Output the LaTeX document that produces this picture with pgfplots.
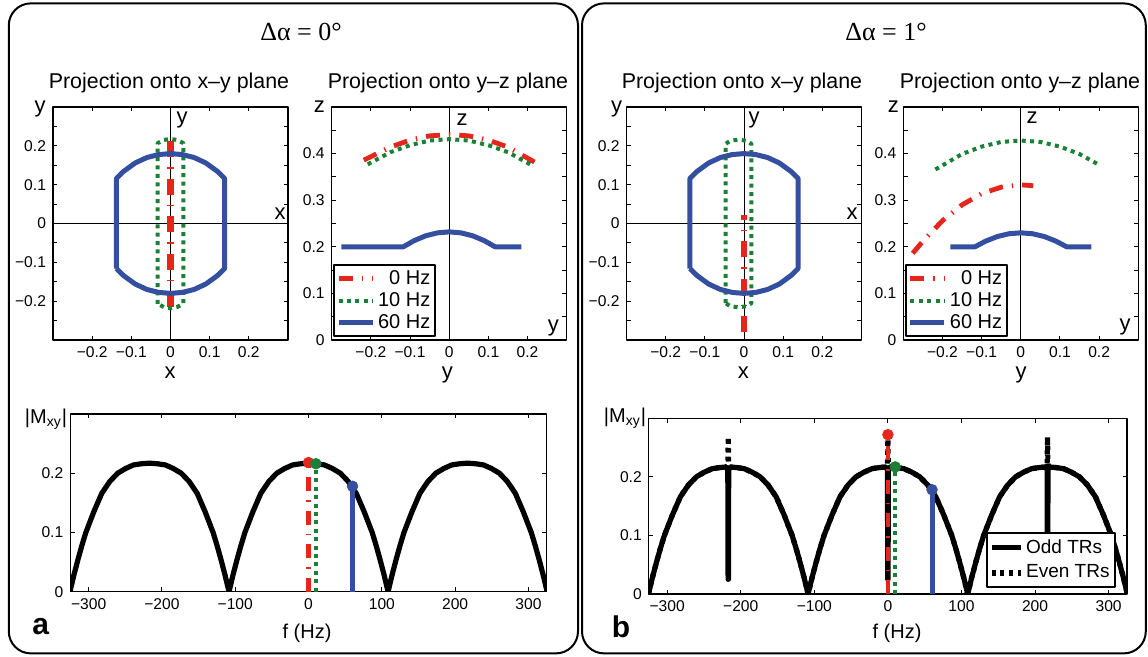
\documentclass[border=0pt]{standalone}
\usepackage{pgfplots}
\usepackage{pgfplotstable}
\pgfplotsset{compat=1.18}
\usepackage{fontspec}
\setmainfont{Liberation Sans}
\newfontfamily\seriffont{Liberation Serif}

\definecolor{mred}{RGB}{228,38,28}
\definecolor{mgreen}{RGB}{26,128,54}
\definecolor{mblue}{RGB}{52,78,160}

\tikzset{
  redxy/.style={mred, line width=3.2pt, dash pattern=on 8pt off 5pt on 0.7pt off 5pt},
  redl/.style={mred, line width=2.4pt, dash pattern=on 7pt off 4.5pt on 0.7pt off 4.5pt},
  greenl/.style={mgreen, line width=2pt, dash pattern=on 2pt off 2.2pt},
  bluel/.style={mblue, line width=2.5pt},
  oddl/.style={black, line width=2.6pt},
  evenl/.style={black, line width=2.6pt, dash pattern=on 2pt off 2.4pt},
  lab/.style={font=\fontsize{11}{13}\selectfont, inner sep=0pt},
  ttl/.style={font=\fontsize{10.7}{12}\selectfont, inner sep=0pt},
}

\pgfplotsset{
  mat/.style={scale only axis, anchor=south west,
    axis line style={line width=0.6pt},
    tick align=inside, major tick length=2.2pt, minor tick length=2.2pt,
    tick style={black, line width=0.5pt},
    tick label style={font=\fontsize{7.8}{9}\selectfont},
    line join=round},
  proj/.style={mat, width=117.5pt, height=116.5pt, xmin=-0.3, xmax=0.3,
    xtick={-0.2,-0.1,0,0.1,0.2}, xticklabels={−0.2,−0.1,0,0.1,0.2}},
  xyax/.style={proj, ymin=-0.3, ymax=0.3,
    ytick={-0.2,-0.1,0,0.1,0.2}, yticklabels={−0.2,−0.1,0,0.1,0.2},
    minor ytick={-0.25,-0.15,-0.05,0.05,0.15,0.25}},
  yzax/.style={proj, ymin=0, ymax=0.5,
    ytick={0,0.1,0.2,0.3,0.4}, yticklabels={0,0.1,0.2,0.3,0.4},
    minor ytick={0.05,0.15,0.25,0.35,0.45}},
  fax/.style={mat, xmin=-325, xmax=325, ymin=0, ymax=0.3,
    xtick={-300,-200,-100,0,100,200,300},
    xticklabels={−300,−200,−100,0,100,200,300},
    ytick={0,0.1,0.2}, yticklabels={0,0.1,0.2}},
}

% |Mxy| against off-resonance, one row per point
\pgfplotstableread{
f m
-325.5 0
-320.1 0.028
-314.6 0.054
-309.2 0.078
-303.8 0.100
-292.9 0.135
-282.1 0.166
-271.2 0.186
-260.4 0.200
-249.5 0.208
-238.7 0.214
-227.8 0.216
-217.0 0.217
-206.2 0.216
-195.3 0.214
-184.5 0.208
-173.6 0.200
-162.8 0.186
-151.9 0.166
-141.1 0.135
-130.2 0.100
-124.8 0.078
-119.4 0.054
-113.9 0.028
-108.5 0
-103.1 0.028
-97.6 0.054
-92.2 0.078
-86.8 0.100
-75.9 0.135
-65.1 0.166
-54.2 0.186
-43.4 0.200
-32.5 0.208
-21.7 0.214
-10.8 0.216
0 0.217
10.8 0.216
21.7 0.214
32.5 0.208
43.4 0.200
54.2 0.186
65.1 0.166
75.9 0.135
86.8 0.100
92.2 0.078
97.6 0.054
103.1 0.028
108.5 0
113.9 0.028
119.4 0.054
124.8 0.078
130.2 0.100
141.1 0.135
151.9 0.166
162.8 0.186
173.6 0.200
184.5 0.208
195.3 0.214
206.2 0.216
217.0 0.217
227.8 0.216
238.7 0.214
249.5 0.208
260.4 0.200
271.2 0.186
282.1 0.166
292.9 0.135
303.8 0.100
309.2 0.078
314.6 0.054
320.1 0.028
325.5 0
}\mxya

\pgfplotstableread{
f m
-325.5 0
-320.1 0.028
-314.6 0.054
-309.2 0.078
-303.8 0.100
-292.9 0.135
-282.1 0.166
-271.2 0.186
-260.4 0.200
-249.5 0.208
-238.7 0.214
-227.8 0.216
-219.5 0.2168
-217.6 0.212
-217.2 0.025
-216.8 0.025
-216.4 0.212
-214.5 0.2168
-206.2 0.216
-195.3 0.214
-184.5 0.208
-173.6 0.200
-162.8 0.186
-151.9 0.166
-141.1 0.135
-130.2 0.100
-124.8 0.078
-119.4 0.054
-113.9 0.028
-108.5 0
-103.1 0.028
-97.6 0.054
-92.2 0.078
-86.8 0.100
-75.9 0.135
-65.1 0.166
-54.2 0.186
-43.4 0.200
-32.5 0.208
-21.7 0.214
-10.8 0.216
-2.5 0.2168
-0.6 0.212
-0.2 0.025
0.2 0.025
0.6 0.212
2.5 0.2168
10.8 0.216
21.7 0.214
32.5 0.208
43.4 0.200
54.2 0.186
65.1 0.166
75.9 0.135
86.8 0.100
92.2 0.078
97.6 0.054
103.1 0.028
108.5 0
113.9 0.028
119.4 0.054
124.8 0.078
130.2 0.100
141.1 0.135
151.9 0.166
162.8 0.186
173.6 0.200
184.5 0.208
195.3 0.214
206.2 0.216
214.5 0.2168
216.4 0.212
216.8 0.025
217.2 0.025
217.6 0.212
219.5 0.2168
227.8 0.216
238.7 0.214
249.5 0.208
260.4 0.200
271.2 0.186
282.1 0.166
292.9 0.135
303.8 0.100
309.2 0.078
314.6 0.054
320.1 0.028
325.5 0
}\mxyodd

\pgfplotstableread{
f m
-325.5 0
-320.1 0.028
-314.6 0.054
-309.2 0.078
-303.8 0.100
-292.9 0.135
-282.1 0.166
-271.2 0.186
-260.4 0.200
-249.5 0.208
-238.7 0.214
-227.8 0.216
-219.5 0.2168
-217.6 0.221
-217.0 0.268
-216.4 0.221
-214.5 0.2168
-206.2 0.216
-195.3 0.214
-184.5 0.208
-173.6 0.200
-162.8 0.186
-151.9 0.166
-141.1 0.135
-130.2 0.100
-124.8 0.078
-119.4 0.054
-113.9 0.028
-108.5 0
-103.1 0.028
-97.6 0.054
-92.2 0.078
-86.8 0.100
-75.9 0.135
-65.1 0.166
-54.2 0.186
-43.4 0.200
-32.5 0.208
-21.7 0.214
-10.8 0.216
-2.5 0.2168
-0.6 0.221
0 0.265
0.6 0.221
2.5 0.2168
10.8 0.216
21.7 0.214
32.5 0.208
43.4 0.200
54.2 0.186
65.1 0.166
75.9 0.135
86.8 0.100
92.2 0.078
97.6 0.054
103.1 0.028
108.5 0
113.9 0.028
119.4 0.054
124.8 0.078
130.2 0.100
141.1 0.135
151.9 0.166
162.8 0.186
173.6 0.200
184.5 0.208
195.3 0.214
206.2 0.216
214.5 0.2168
216.4 0.221
217.0 0.268
217.6 0.221
219.5 0.2168
227.8 0.216
238.7 0.214
249.5 0.208
260.4 0.200
271.2 0.186
282.1 0.166
292.9 0.135
303.8 0.100
309.2 0.078
314.6 0.054
320.1 0.028
325.5 0
}\mxyeven

\begin{document}
\begin{tikzpicture}
\useasboundingbox (0,0) rectangle (574pt,328.5pt);
\draw[line width=1pt, rounded corners=11pt] (4.4pt,1.8pt) rectangle (289pt,326.8pt);
\draw[line width=1pt, rounded corners=11pt] (291pt,1.8pt) rectangle (572.9pt,326.8pt);

\node[font=\seriffont\fontsize{13}{15}\selectfont] at (150.5pt,312.5pt) {Δα = 0°};
\node[font=\seriffont\fontsize{13}{15}\selectfont] at (443pt,312.5pt) {Δα = 1°};

% ---------------- panel a ----------------
\node[ttl] at (84.5pt,287pt) {Projection onto x–y plane};
\node[ttl] at (224pt,287pt) {Projection onto y–z plane};

\begin{axis}[xyax, at={(26.5pt,158.5pt)}]
\draw[line width=0.5pt] (axis cs:-0.3,0) -- (axis cs:0.3,0);
\draw[line width=0.5pt] (axis cs:0,-0.3) -- (axis cs:0,0.3);
\addplot[redxy] coordinates {(0,-0.215) (0,0.218)};
\addplot[greenl] coordinates {(-0.033,-0.207) (-0.033,0.207) (-0.017,0.215) (0,0.218)
  (0.017,0.215) (0.033,0.207) (0.033,-0.207) (0.017,-0.215) (0,-0.218)
  (-0.017,-0.215) (-0.033,-0.207)};
\addplot[bluel] coordinates {(-0.138,-0.116) (-0.138,0.116) (-0.12,0.134) (-0.09,0.156)
  (-0.06,0.170) (-0.03,0.1775) (0,0.18) (0.03,0.1775) (0.06,0.170) (0.09,0.156)
  (0.12,0.134) (0.138,0.116) (0.138,-0.116) (0.12,-0.134) (0.09,-0.156)
  (0.06,-0.170) (0.03,-0.1775) (0,-0.18) (-0.03,-0.1775) (-0.06,-0.170)
  (-0.09,-0.156) (-0.12,-0.134) (-0.138,-0.116)};
\end{axis}
\node[lab] at (20pt,274pt) {y};
\node[lab] at (85pt,142pt) {x};
\node[lab] at (91pt,268.5pt) {y};
\node[lab] at (140pt,221.5pt) {x};

\begin{axis}[yzax, at={(165.85pt,158.5pt)},
  legend style={at={(0.006,0.013)}, anchor=south west, draw=black, line width=1pt,
    fill=white, font=\fontsize{10}{10}\selectfont, inner sep=1pt,
    nodes={inner xsep=1.5pt, inner ysep=1.3pt}, cells={anchor=east}},
  legend image code/.code={\draw[#1] (0pt,0pt) -- (17pt,0pt);}]
\draw[line width=0.5pt] (axis cs:0,0) -- (axis cs:0,0.5);
\addplot[redl] coordinates {(-0.218,0.386) (-0.15,0.414) (-0.1,0.429) (-0.05,0.438)
  (0,0.441) (0.05,0.438) (0.1,0.429) (0.15,0.414) (0.228,0.377)};
\addlegendentry{0 Hz}
\addplot[greenl] coordinates {(-0.208,0.377) (-0.15,0.403) (-0.1,0.418) (-0.05,0.428)
  (0,0.431) (0.05,0.428) (0.1,0.418) (0.15,0.403) (0.211,0.375)};
\addlegendentry{10 Hz}
\addplot[bluel] coordinates {(-0.275,0.2) (-0.117,0.2) (-0.09,0.213) (-0.06,0.2236)
  (-0.03,0.2299) (0,0.232) (0.03,0.2299) (0.06,0.2236) (0.09,0.213) (0.117,0.2)
  (0.184,0.2)};
\addlegendentry{60 Hz}
\end{axis}
\node[lab] at (159.7pt,275pt) {z};
\node[lab] at (223.7pt,141pt) {y};
\node[lab] at (231pt,268.5pt) {z};
\node[lab] at (276.7pt,164.5pt) {y};

\begin{axis}[fax, at={(35.15pt,32.65pt)}, width=238.25pt, height=88.85pt]
\addplot[oddl] table[x=f, y=m] {\mxya};
\addplot[redl, mark=*, mark indices={2}, mark size=2.7pt,
  mark options={solid, fill=mred, draw=mred, line width=0.3pt}] coordinates {(0,0) (0,0.218)};
\addplot[greenl, mark=*, mark indices={2}, mark size=2.7pt,
  mark options={solid, fill=mgreen, draw=mgreen, line width=0.3pt}] coordinates {(10,0) (10,0.216)};
\addplot[bluel, mark=*, mark indices={2}, mark size=2.7pt,
  mark options={solid, fill=mblue, draw=mblue, line width=0.3pt}] coordinates {(60,0) (60,0.178)};
\end{axis}
\node[font=\fontsize{10}{12}\selectfont] at (23pt,119pt) {|M\textsubscript{xy}|};
\node[font=\fontsize{10}{12}\selectfont] at (153.5pt,12pt) {f (Hz)};
\node[font=\bfseries\fontsize{15}{17}\selectfont] at (20.3pt,15pt) {a};

% ---------------- panel b ----------------
\node[ttl] at (371pt,287pt) {Projection onto x–y plane};
\node[ttl] at (510pt,287pt) {Projection onto y–z plane};

\begin{axis}[xyax, at={(313.25pt,158.5pt)}]
\draw[line width=0.5pt] (axis cs:-0.3,0) -- (axis cs:0.3,0);
\draw[line width=0.5pt] (axis cs:0,-0.3) -- (axis cs:0,0.3);
\addplot[redxy] coordinates {(0,-0.28) (0,0.022)};
\addplot[greenl] coordinates {(-0.047,-0.205) (-0.047,0.205) (-0.035,0.213) (-0.014,0.216)
  (0.007,0.213) (0.019,0.205) (0.019,-0.205) (0.007,-0.213) (-0.014,-0.216)
  (-0.035,-0.213) (-0.047,-0.205)};
\addplot[bluel] coordinates {(-0.138,-0.116) (-0.138,0.116) (-0.12,0.134) (-0.09,0.156)
  (-0.06,0.170) (-0.03,0.1775) (0,0.18) (0.03,0.1775) (0.06,0.170) (0.09,0.156)
  (0.12,0.134) (0.138,0.116) (0.138,-0.116) (0.12,-0.134) (0.09,-0.156)
  (0.06,-0.170) (0.03,-0.1775) (0,-0.18) (-0.03,-0.1775) (-0.06,-0.170)
  (-0.09,-0.156) (-0.12,-0.134) (-0.138,-0.116)};
\end{axis}
\node[lab] at (308.3pt,274pt) {y};
\node[lab] at (371.7pt,142pt) {x};
\node[lab] at (377pt,268.5pt) {y};
\node[lab] at (426pt,221.5pt) {x};

\begin{axis}[yzax, at={(451.65pt,158.5pt)},
  legend style={at={(0.007,0.013)}, anchor=south west, draw=black, line width=1pt,
    fill=white, font=\fontsize{10}{10}\selectfont, inner sep=1pt,
    nodes={inner xsep=1.5pt, inner ysep=1.3pt}, cells={anchor=east}},
  legend image code/.code={\draw[#1] (0pt,0pt) -- (17pt,0pt);}]
\draw[line width=0.5pt] (axis cs:0,0) -- (axis cs:0,0.5);
\addplot[redl] coordinates {(-0.276,0.186) (-0.25,0.212) (-0.2,0.256) (-0.15,0.290)
  (-0.1,0.314) (-0.05,0.328) (0,0.333) (0.032,0.331)};
\addlegendentry{0 Hz}
\addplot[greenl] coordinates {(-0.218,0.366) (-0.15,0.399) (-0.1,0.415) (-0.05,0.425)
  (0,0.428) (0.05,0.425) (0.1,0.415) (0.15,0.399) (0.204,0.374)};
\addlegendentry{10 Hz}
\addplot[bluel] coordinates {(-0.18,0.2) (-0.117,0.2) (-0.09,0.212) (-0.06,0.222)
  (-0.03,0.228) (0,0.23) (0.03,0.228) (0.06,0.222) (0.09,0.212) (0.117,0.2)
  (0.18,0.2)};
\addlegendentry{60 Hz}
\end{axis}
\node[lab] at (446.7pt,275pt) {z};
\node[lab] at (510.5pt,141pt) {y};
\node[lab] at (516pt,269.5pt) {z};
\node[lab] at (562.5pt,165pt) {y};

\begin{axis}[fax, at={(324.4pt,31.5pt)}, width=239.1pt, height=87.85pt,
  legend style={at={(0.976,0.032)}, anchor=south east, draw=black, line width=1pt,
    fill=white, font=\fontsize{9.5}{10}\selectfont, inner sep=1pt,
    nodes={inner xsep=1.5pt, inner ysep=2.2pt}, cells={anchor=west}},
  legend image code/.code={\draw[#1] (0pt,0pt) -- (14.5pt,0pt);}]
\addplot[oddl] table[x=f, y=m] {\mxyodd};
\addlegendentry{Odd TRs}
\addplot[evenl] table[x=f, y=m] {\mxyeven};
\addlegendentry{Even TRs}
\addplot[redl, mark=*, mark indices={2}, mark size=2.7pt,
  mark options={solid, fill=mred, draw=mred, line width=0.3pt}] coordinates {(0,0) (0,0.272)};
\addplot[greenl, mark=*, mark indices={2}, mark size=2.7pt,
  mark options={solid, fill=mgreen, draw=mgreen, line width=0.3pt}] coordinates {(10,0) (10,0.217)};
\addplot[bluel, mark=*, mark indices={2}, mark size=2.7pt,
  mark options={solid, fill=mblue, draw=mblue, line width=0.3pt}] coordinates {(60,0) (60,0.178)};
\end{axis}
\node[font=\fontsize{10}{12}\selectfont] at (312.5pt,119.5pt) {|M\textsubscript{xy}|};
\node[font=\fontsize{10}{12}\selectfont] at (448.5pt,12pt) {f (Hz)};
\node[font=\bfseries\fontsize{15}{17}\selectfont] at (310.5pt,15pt) {b};
\end{tikzpicture}
\end{document}
